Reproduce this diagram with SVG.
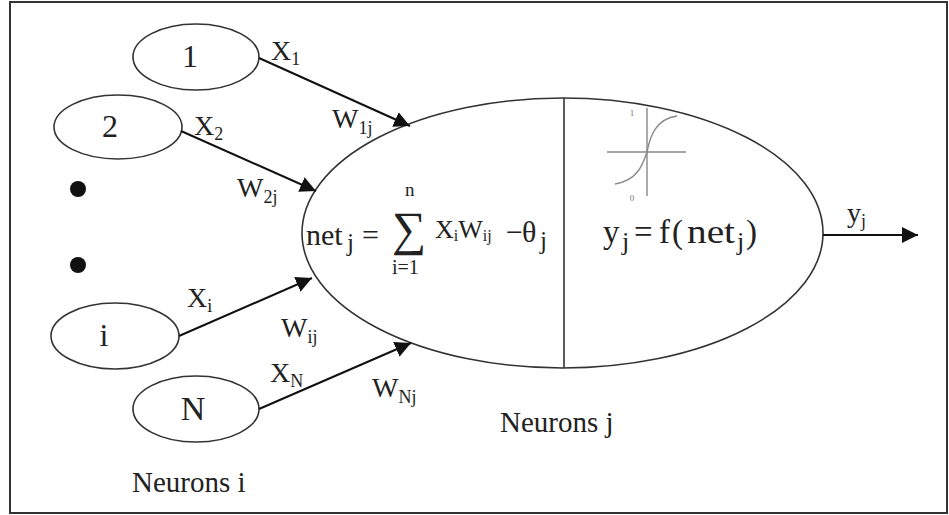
<svg xmlns="http://www.w3.org/2000/svg" width="949" height="515" viewBox="0 0 949 515">
<defs>
<style>
text{font-family:'Liberation Serif','DejaVu Serif',serif;fill:#222}
.node{fill:#fff;stroke:#333;stroke-width:1.6}
.edge{stroke:#111;stroke-width:2;fill:none}
.icon{stroke:#888;stroke-width:1.4;fill:none}
</style>
<marker id="ah" viewBox="0 0 10 10" refX="10" refY="5" markerWidth="8" markerHeight="8" orient="auto" markerUnits="strokeWidth">
<path d="M0,0 L10,5 L0,10 z" fill="#111"/>
</marker>
</defs>
<rect x="0" y="0" width="949" height="515" fill="#fff"/>
<rect x="10" y="2" width="937" height="511" fill="none" stroke="#333" stroke-width="2"/>

<g font-family="Liberation Serif, DejaVu Serif, serif">
<g id="neuron-j">
<ellipse class="node" cx="562.5" cy="233" rx="260.5" ry="135"/>
<line x1="564" y1="98" x2="564" y2="368" stroke="#333" stroke-width="1.6"/>
<g id="sigmoid">
<line class="icon" x1="607" y1="152" x2="686" y2="152"/>
<line class="icon" x1="647" y1="108" x2="647" y2="196"/>
<path class="icon" d="M615,184 C640,180 644,160 647,152 C650,136 656,119 677,116"/>
<text x="632" y="116" font-size="9" style="fill:#777" text-anchor="middle">1</text>
<text x="632" y="201" font-size="9" style="fill:#777" text-anchor="middle">0</text>
</g>
<text font-size="30"><tspan x="306" y="245">net</tspan><tspan x="347" y="251" font-size="25">j</tspan><tspan x="362" y="245">=</tspan></text>
<text x="392" y="245" font-size="48">∑</text>
<text x="405" y="196" font-size="19">n</text>
<text x="392" y="274" font-size="20">i=1</text>
<text font-size="26"><tspan x="435" y="238">X</tspan><tspan font-size="16" dy="3">i</tspan><tspan font-size="26" dy="-3">W</tspan><tspan font-size="16" dy="3">ij</tspan></text>
<text font-size="30"><tspan x="506" y="242">−</tspan><tspan x="522" y="242">θ</tspan><tspan x="540" y="249" font-size="25">j</tspan></text>
<text font-size="33"><tspan x="603" y="243">y</tspan><tspan x="622" y="250" font-size="26">j</tspan><tspan x="634" y="243">=</tspan><tspan x="659" y="243">f</tspan><tspan x="672" y="243">(</tspan><tspan x="687" y="243" textLength="48" lengthAdjust="spacingAndGlyphs">net</tspan><tspan x="737" y="250" font-size="26">j</tspan><tspan x="746" y="243">)</tspan></text>
<text x="500" y="432" font-size="29">Neurons j</text>
</g>

<g id="node-1">
<ellipse class="node" cx="196" cy="57" rx="63" ry="33"/>
<text x="190" y="67" font-size="32" text-anchor="middle">1</text>
</g>
<g id="node-2">
<ellipse class="node" cx="118" cy="127" rx="64" ry="32"/>
<text x="110" y="137" font-size="32" text-anchor="middle">2</text>
</g>
<g id="dots">
<circle cx="78" cy="189" r="8" fill="#111"/>
<circle cx="78" cy="265" r="8" fill="#111"/>
</g>
<g id="node-i">
<ellipse class="node" cx="115" cy="336" rx="64" ry="33"/>
<text x="104" y="346" font-size="32" text-anchor="middle">i</text>
</g>
<g id="node-N">
<ellipse class="node" cx="196" cy="409" rx="63" ry="33"/>
<text x="193" y="420" font-size="34" text-anchor="middle">N</text>
</g>
<text x="132" y="492" font-size="29">Neurons i</text>

<g id="connectors">
<line class="edge" x1="259" y1="58" x2="410" y2="126" marker-end="url(#ah)"/>
<line class="edge" x1="181" y1="131" x2="316" y2="191" marker-end="url(#ah)"/>
<line class="edge" x1="179" y1="336" x2="312" y2="278" marker-end="url(#ah)"/>
<line class="edge" x1="259" y1="409" x2="411" y2="343" marker-end="url(#ah)"/>
<line class="edge" x1="823" y1="235" x2="918" y2="235" marker-end="url(#ah)"/>
</g>

<g id="labels">
<text font-size="28"><tspan x="271" y="60">X</tspan><tspan font-size="18" dy="5">1</tspan></text>
<text font-size="28"><tspan x="332" y="128">W</tspan><tspan font-size="18" dy="6">1j</tspan></text>
<text font-size="28"><tspan x="194" y="135">X</tspan><tspan font-size="18" dy="5">2</tspan></text>
<text font-size="28"><tspan x="237" y="197">W</tspan><tspan font-size="18" dy="6">2j</tspan></text>
<text font-size="28"><tspan x="187" y="307">X</tspan><tspan font-size="18" dy="5">i</tspan></text>
<text font-size="28"><tspan x="281" y="337">W</tspan><tspan font-size="18" dy="6">ij</tspan></text>
<text font-size="28"><tspan x="270" y="382">X</tspan><tspan font-size="18" dy="5">N</tspan></text>
<text font-size="28"><tspan x="372" y="397">W</tspan><tspan font-size="18" dy="6">Nj</tspan></text>
<text font-size="28"><tspan x="847" y="222">y</tspan><tspan font-size="18" dy="5">j</tspan></text>
</g>
</g>
</svg>
